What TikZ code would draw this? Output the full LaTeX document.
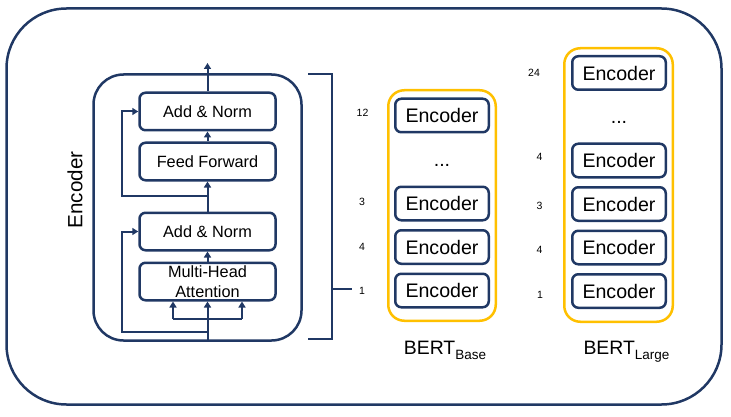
\documentclass[tikz,border=0pt]{standalone}
\usepackage{fontspec}
\setmainfont{Liberation Sans}
\usetikzlibrary{positioning,arrows.meta}
\definecolor{navy}{HTML}{203864}
\definecolor{gold}{HTML}{FFC000}

\begin{document}
\begin{tikzpicture}[x=1pt,y=-1pt]
		\tikzstyle{frame}=[rectangle, draw=navy, line width=2.5pt]
		\tikzstyle{block}=[rectangle, rounded corners=6pt, draw=navy, line width=2.5pt, minimum width=136pt, minimum height=37.5pt, inner sep=1pt, align=center, font=\fontsize{16.3}{19.5}\selectfont]
		\tikzstyle{enc}=[rectangle, rounded corners=6pt, draw=navy, line width=2.5pt, minimum width=93.5pt, minimum height=33.5pt, font=\fontsize{19.6}{20}\selectfont]
		\tikzstyle{stack}=[rectangle, rounded corners=16pt, draw=gold, line width=2.5pt]
		\tikzstyle{connect}=[-{Triangle[length=6pt,width=7pt]}, line width=2pt, navy]
		\tikzstyle{wire}=[line width=2pt, navy]
		\tikzstyle{num}=[font=\fontsize{10.5}{11}\selectfont]
		\tikzstyle{dots}=[anchor=base, font=\fontsize{19.6}{20}\selectfont]
		\tikzstyle{bert}=[anchor=base, font=\fontsize{19.4}{20}\selectfont]
		\useasboundingbox (0,0) rectangle (731,417);
		\node[frame, rounded corners=60pt, minimum width=715pt, minimum height=396pt] (outer) at (364,206.5) {};
		% encoder block
		\node[frame, rounded corners=30pt, minimum width=208pt, minimum height=266pt] (encoder) at (197.5,207.5) {};
		\node[rotate=90, font=\fontsize{20.6}{21}\selectfont] (enclabel) at (75,190) {Encoder};
		\node[block] (addnorm1) at (207.5,111.5) {Add \& Norm};
		\node[block] (feed) [below=10pt of addnorm1] {Feed Forward};
		\node[block] (addnorm2) [below=30pt of feed] {Add \& Norm};
		\node[block] (mha) [below=10pt of addnorm2] {Multi-Head\\Attention};
		\coordinate (top) at (207.5,63);
		\coordinate (split1) at (207.5,196);
		\coordinate (res1) at (122,196);
		\coordinate (split2) at (207.5,332);
		\coordinate (res2) at (122,332);
		\coordinate (fork) at (207.5,319);
		\coordinate (forkl) at (173,319);
		\coordinate (forkr) at (242,319);
		\path (addnorm1) edge [connect] (top)
		(feed) edge [connect] (addnorm1)
		(addnorm2) edge [connect] (feed)
		(mha) edge [connect] (addnorm2)
		(fork) edge [connect] (mha);
		\draw[wire] (fork |- encoder.south) -- (fork);
		\draw[wire] (forkl) -- (forkr);
		\draw[connect] (forkl) -- (forkl |- mha.south);
		\draw[connect] (forkr) -- (forkr |- mha.south);
		\draw[connect] (split1) -- (res1) |- (addnorm1.west);
		\draw[connect] (split2) -- (res2) |- (addnorm2.west);
		% bracket
		\coordinate (tick) at (352,289);
		\draw[wire, line width=2.5pt] (308,74) -- (332,74) -- (332,339) -- (308,339);
		\draw[wire, line width=2.5pt] (332,289) -- (tick);
		% BERT base
		\node[stack, minimum width=107.5pt, minimum height=230.5pt] (base) at (442,205.5) {};
		\node[enc] (b1) at (442,290.5) {Encoder};
		\node[enc] (b2) [above=7.5pt of b1] {Encoder};
		\node[enc] (b3) [above=7.5pt of b2] {Encoder};
		\node[dots] (bdots) at (442,166.5) {...};
		\node[enc] (b12) at (442,115.5) {Encoder};
		\node[num] (nb12) at (362.5,113) {12};
		\node[num] (nb3) at (362,202) {3};
		\node[num] (nb2) at (362,247) {4};
		\node[num] (nb1) at (362,291) {1};
		\node[bert] (bertbase) at (445,354) {BERT\raisebox{-5pt}{\fontsize{13.5}{14}\selectfont Base}};
		% BERT large
		\node[stack, minimum width=108.5pt, minimum height=273.5pt] (large) at (618.5,185) {};
		\node[enc] (l1) at (619,291) {Encoder};
		\node[enc] (l2) [above=7.5pt of l1] {Encoder};
		\node[enc] (l3) [above=7.5pt of l2] {Encoder};
		\node[enc] (l4) [above=7.5pt of l3] {Encoder};
		\node[dots] (ldots) at (619,123.5) {...};
		\node[enc] (l24) at (619,73) {Encoder};
		\node[num] (nl24) at (534,73) {24};
		\node[num] (nl4) at (539.5,157) {4};
		\node[num] (nl3) at (539.5,206) {3};
		\node[num] (nl2) at (539.5,250) {4};
		\node[num] (nl1) at (540,295) {1};
		\node[bert] (bertlarge) at (626.5,354) {BERT\raisebox{-5pt}{\fontsize{13.5}{14}\selectfont Large}};
\end{tikzpicture}
\end{document}
